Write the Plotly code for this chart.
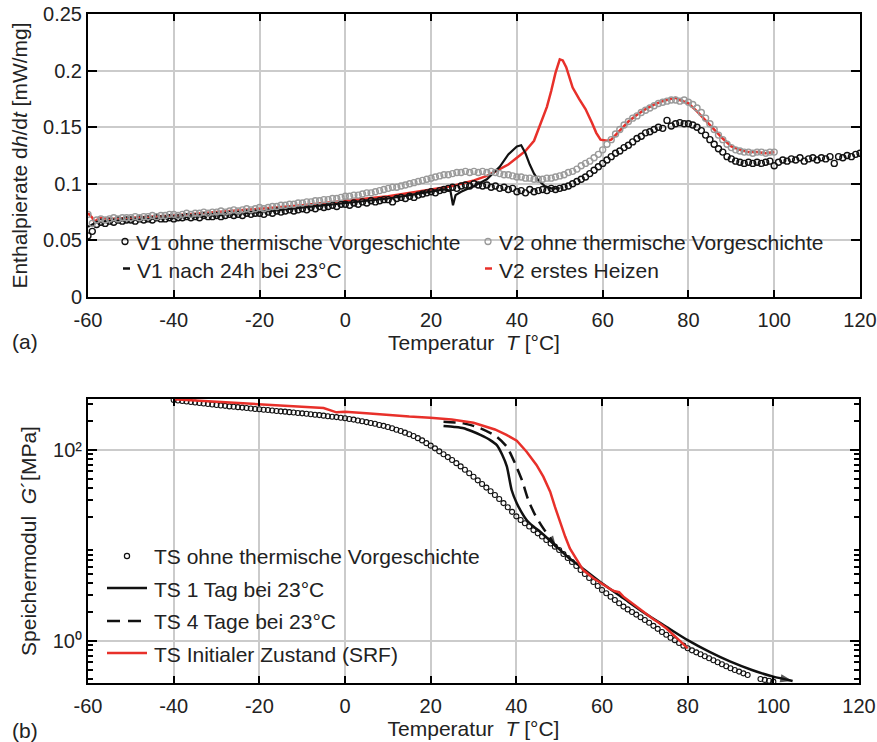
import math
import plotly.graph_objects as go

W, H = 877, 742
FONT = "Liberation Sans, Arial, sans-serif"

# ---------------- (a) DSC: Enthalpierate ----------------
T_v1_ohne = list(range(-60, 121))
dhdt_v1_ohne = [
    0.054, 0.058, 0.064, 0.066, 0.065, 0.067, 0.066, 0.068, 0.067, 0.068,
    0.068, 0.067, 0.069, 0.068, 0.069, 0.068, 0.070, 0.069, 0.069, 0.070,
    0.069, 0.070, 0.070, 0.071, 0.070, 0.071, 0.070, 0.072, 0.071, 0.071,
    0.072, 0.071, 0.072, 0.073, 0.072, 0.073, 0.072, 0.074, 0.073, 0.074,
    0.074, 0.073, 0.075, 0.074, 0.076, 0.075, 0.076, 0.077, 0.076, 0.077,
    0.078, 0.077, 0.079, 0.078, 0.080, 0.079, 0.080, 0.081, 0.080, 0.082,
    0.082, 0.081, 0.083, 0.082, 0.084, 0.083, 0.085, 0.084, 0.085, 0.086,
    0.086, 0.084, 0.087, 0.088, 0.087, 0.089, 0.088, 0.090, 0.091, 0.092,
    0.093, 0.092, 0.094, 0.095, 0.096, 0.097, 0.096, 0.098, 0.099, 0.098,
    0.100, 0.099, 0.098, 0.099, 0.097, 0.098, 0.096, 0.097, 0.095, 0.096,
    0.093, 0.094, 0.092, 0.095, 0.093, 0.094, 0.095, 0.094, 0.096, 0.095,
    0.096, 0.097, 0.098, 0.100, 0.102, 0.104, 0.106, 0.109, 0.112, 0.115,
    0.118, 0.121, 0.124, 0.127, 0.129, 0.132, 0.134, 0.137, 0.140, 0.142,
    0.145, 0.146, 0.148, 0.150, 0.149, 0.156, 0.151, 0.153, 0.154, 0.153,
    0.153, 0.152, 0.150, 0.147, 0.143, 0.139, 0.135, 0.131, 0.128, 0.124,
    0.122, 0.120, 0.119, 0.118, 0.119, 0.118, 0.119, 0.118, 0.119, 0.120,
    0.116, 0.119, 0.121, 0.120, 0.122, 0.121, 0.123, 0.120, 0.122, 0.123,
    0.121, 0.123, 0.122, 0.124, 0.118, 0.124, 0.123, 0.125, 0.124, 0.126,
    0.127,
]

T_v2_ohne = list(range(-60, 101))
dhdt_v2_ohne = [
    0.073, 0.065, 0.068, 0.069, 0.068, 0.069, 0.070, 0.069, 0.070, 0.070,
    0.070, 0.071, 0.070, 0.071, 0.071, 0.072, 0.071, 0.072, 0.072, 0.073,
    0.073, 0.072, 0.073, 0.074, 0.073, 0.074, 0.074, 0.075, 0.074, 0.075,
    0.075, 0.076, 0.075, 0.076, 0.077, 0.076, 0.077, 0.078, 0.077, 0.078,
    0.079, 0.078, 0.079, 0.080, 0.080, 0.081, 0.081, 0.082, 0.082, 0.083,
    0.083, 0.084, 0.084, 0.085, 0.085, 0.086, 0.086, 0.087, 0.087, 0.088,
    0.089, 0.089, 0.090, 0.090, 0.091, 0.092, 0.092, 0.093, 0.094, 0.095,
    0.096, 0.097, 0.097, 0.098, 0.099, 0.100, 0.101, 0.102, 0.103, 0.104,
    0.105, 0.106, 0.107, 0.108, 0.108, 0.109, 0.110, 0.110, 0.111, 0.110,
    0.111, 0.110, 0.111, 0.110, 0.111, 0.110, 0.109, 0.108, 0.108, 0.107,
    0.106, 0.106, 0.105, 0.105, 0.104, 0.104, 0.104, 0.105, 0.105, 0.106,
    0.107, 0.108, 0.110, 0.111, 0.113, 0.116, 0.118, 0.120, 0.123, 0.126,
    0.130, 0.135, 0.139, 0.144, 0.148, 0.152, 0.155, 0.158, 0.160, 0.163,
    0.165, 0.167, 0.169, 0.171, 0.172, 0.173, 0.174, 0.174, 0.173, 0.174,
    0.172, 0.170, 0.167, 0.163, 0.158, 0.153, 0.148, 0.143, 0.139, 0.135,
    0.132, 0.130, 0.129, 0.128, 0.128, 0.127, 0.128, 0.128, 0.127, 0.128,
    0.128,
]

T_v1_24h = [-60, -58, -55, -50, -40, -30, -20, -10, 0, 10, 15, 20, 23, 24.5,
            25.1, 25.7, 27, 30, 33, 36, 38, 40, 41, 42, 43, 44, 45, 46.5, 48, 50]
dhdt_v1_24h = [0.062, 0.066, 0.067, 0.068, 0.070, 0.072, 0.075, 0.079, 0.083,
               0.087, 0.090, 0.093, 0.095, 0.094, 0.081, 0.090, 0.093, 0.098,
               0.104, 0.115, 0.126, 0.133, 0.134, 0.127, 0.117, 0.109, 0.103,
               0.098, 0.096, 0.096]

T_v2_heat = [-60, -59, -58.5, -58, -57, -55, -50, -40, -30, -20,
             -10, 0, 10, 20, 25, 30, 33, 35, 38, 40,
             42, 44, 45, 46, 47, 48, 49, 50, 50.7, 51.5,
             53, 54.5, 56, 57.5, 58.5, 59.5, 61, 62, 64, 66,
             68, 70, 72, 74, 76, 77, 78, 80, 82, 84,
             86, 88, 90, 92, 94, 96, 98, 100]
dhdt_v2_heat = [0.074, 0.070, 0.066, 0.068, 0.070, 0.069, 0.070, 0.072, 0.075, 0.078,
                0.081, 0.085, 0.089, 0.095, 0.098, 0.103, 0.107, 0.111, 0.117, 0.123,
                0.129, 0.138, 0.148, 0.158, 0.168, 0.182, 0.198, 0.210, 0.209, 0.203,
                0.185, 0.175, 0.166, 0.154, 0.145, 0.139, 0.138, 0.139, 0.147, 0.155,
                0.161, 0.166, 0.170, 0.173, 0.175, 0.176, 0.174, 0.171, 0.164, 0.156,
                0.148, 0.140, 0.133, 0.130, 0.128, 0.128, 0.127, 0.128]

# ---------------- (b) DMA: Speichermodul ----------------
T_ts_ohne = list(range(-40, 95)) + [97, 98, 99, 100]
G_ts_ohne = [
    334, 330, 326, 322, 318, 314, 310, 307, 303, 299,
    296, 292, 290, 286, 284, 281, 278, 275, 272, 269,
    267, 264, 262, 259, 256, 254, 252, 249, 247, 244,
    242, 240, 237, 234, 232, 229, 226, 223, 221, 218,
    215, 211, 208, 204, 200, 196, 192, 188, 183, 179,
    174, 169, 163, 158, 152, 146, 140, 133, 126, 118,
    111, 104, 96.8, 90.4, 84.3, 78.5, 72.8, 67.3, 62.1, 57.1,
    52.5, 48.1, 44.1, 40.4, 37.0, 33.8, 30.7, 27.8, 25.1, 22.5,
    20.2, 18.5, 17.1, 15.8, 14.5, 13.4, 12.4, 11.4, 10.5, 9.72,
    8.97, 8.15, 7.40, 6.71, 6.10, 5.53, 5.02, 4.56, 4.14, 3.76,
    3.42, 3.16, 2.91, 2.69, 2.48, 2.29, 2.14, 2.01, 1.89, 1.77,
    1.66, 1.55, 1.44, 1.34, 1.24, 1.16, 1.08, 1.02, 0.953, 0.893,
    0.838, 0.798, 0.760, 0.726, 0.692, 0.659, 0.628, 0.598, 0.570, 0.543,
    0.518, 0.497, 0.478, 0.458, 0.441,
    0.400, 0.391, 0.383, 0.375,
]

T_ts_1tag = [23, 25.5, 27.7, 29.5, 31.6, 33.9, 35.4, 36.7, 37.8, 38.9, 40.1,
             41.2, 42.4, 44, 45.5, 48.6, 52, 55, 60, 65, 70, 75, 80, 85, 90,
             95, 100, 104.5]
G_ts_1tag = [178, 174, 169, 158, 144, 127, 113, 89, 66.8, 38.1, 27.7, 22.4,
             18.5, 15.8, 14.0, 10.5, 7.59, 6.0, 4.02, 2.80, 1.95, 1.41, 1.02,
             0.773, 0.607, 0.497, 0.423, 0.381]

T_ts_4tage = [23, 27.7, 31.6, 35.4, 37.8, 39.7, 41.3, 42.8, 44.4, 46.3, 48.0, 49.3]
G_ts_4tage = [198, 190, 169, 138, 108, 72.4, 48.5, 29.9, 20.8, 15.1, 11.8, 9.6]

T_ts_srf = [-40, -30, -20, -10, -5, -2, 0, 5, 10, 15, 19.9, 24.9, 30.0, 35.0,
            37.7, 40.1, 42.4, 44.7, 46.3, 47.9, 49.0, 50.2, 51.4, 52.5, 54.1,
            55.6, 58.0, 60.0, 62, 63, 64, 65, 68, 70, 72, 73, 75, 78, 80]
G_ts_srf = [340, 320, 303, 287, 275, 248, 252, 243, 232, 224, 218, 209, 193,
            164, 144, 125, 96, 69.7, 52.6, 36.6, 25.5, 17.7, 12.4, 9.33, 7.05,
            5.53, 4.53, 3.95, 3.48, 3.31, 3.24, 2.91, 2.29, 1.95, 1.69, 1.58,
            1.36, 1.02, 0.838]

# ---------------- tick labels ----------------
x_tickvals = [-60, -40, -20, 0, 20, 40, 60, 80, 100, 120]
x_ticktext = ["-60", "-40", "-20", "0", "20", "40", "60", "80", "100", "120"]
ya_tickvals = [0, 0.05, 0.1, 0.15, 0.2, 0.25]
ya_ticktext = ["0", "0.05", "0.1", "0.15", "0.2", "0.25"]
yb_tickvals = [1, 100]
yb_ticktext = ["10\u2070", "10\u00b2"]
yb_minor = [0.4, 0.5, 0.6, 0.7, 0.8, 0.9, 2, 3, 4, 5, 6, 7, 8, 9,
            20, 30, 40, 50, 60, 70, 80, 90, 200, 300]

BLACK = "#111111"
GREY = "#9a9a9a"
RED = "#e8302a"
NB = "\u00a0"


def arrow_end(n, size):
    """marker sizes: only the final point carries an arrow head"""
    return [0] * (n - 1) + [size]


fig = go.Figure()

# (a)
fig.add_trace(go.Scatter(x=T_v2_heat, y=dhdt_v2_heat, mode="lines", name="V2 erstes Heizen",
                         line=dict(color=RED, width=2.5), xaxis="x", yaxis="y", showlegend=False))
fig.add_trace(go.Scatter(x=T_v1_24h, y=dhdt_v1_24h, mode="lines", name="V1 nach 24h bei 23°C",
                         line=dict(color=BLACK, width=2.2), xaxis="x", yaxis="y", showlegend=False))
fig.add_trace(go.Scatter(x=T_v1_ohne, y=dhdt_v1_ohne, mode="markers", name="V1 ohne thermische Vorgeschichte",
                         marker=dict(symbol="circle-open", size=6, color=BLACK, line=dict(width=1.4, color=BLACK)),
                         xaxis="x", yaxis="y", showlegend=False))
fig.add_trace(go.Scatter(x=T_v2_ohne, y=dhdt_v2_ohne, mode="markers", name="V2 ohne thermische Vorgeschichte",
                         marker=dict(symbol="circle-open", size=6, color=GREY, line=dict(width=1.4, color=GREY)),
                         xaxis="x", yaxis="y", showlegend=False))

# (b)
fig.add_trace(go.Scatter(x=T_ts_ohne, y=G_ts_ohne, mode="markers", name="TS ohne thermische Vorgeschichte",
                         marker=dict(symbol="circle-open", size=5, color=BLACK, line=dict(width=1.1, color=BLACK)),
                         xaxis="x2", yaxis="y2", showlegend=False))
fig.add_trace(go.Scatter(x=T_ts_1tag, y=G_ts_1tag, mode="lines+markers", name="TS 1 Tag bei 23°C",
                         line=dict(color=BLACK, width=2.5, shape="spline", smoothing=0.6),
                         marker=dict(symbol="arrow", angleref="previous", size=arrow_end(len(T_ts_1tag), 13),
                                     color=BLACK, line=dict(width=0)),
                         xaxis="x2", yaxis="y2", showlegend=False))
fig.add_trace(go.Scatter(x=T_ts_4tage, y=G_ts_4tage, mode="lines+markers", name="TS 4 Tage bei 23°C",
                         line=dict(color=BLACK, width=2.5, dash="12px,7px", shape="spline", smoothing=0.6),
                         marker=dict(symbol="arrow", angleref="previous", size=arrow_end(len(T_ts_4tage), 12),
                                     color=BLACK, line=dict(width=0)),
                         xaxis="x2", yaxis="y2", showlegend=False))
fig.add_trace(go.Scatter(x=T_ts_srf, y=G_ts_srf, mode="lines", name="TS Initialer Zustand (SRF)",
                         line=dict(color=RED, width=2.5), xaxis="x2", yaxis="y2", showlegend=False))


def px(x):
    return x / W


def py(y):
    return 1 - y / H


TITLE_FONT = dict(size=21, family=FONT, color="#222222")
common = dict(showline=True, linecolor="black", linewidth=2, mirror="ticks",
              ticks="inside", tickcolor="black", tickwidth=2, automargin=False,
              showgrid=True, gridcolor="#cbcbcb", gridwidth=2, zeroline=False,
              tickfont=dict(size=20, color="#222222", family=FONT))

x_title = "Temperatur" + NB + NB + "<i>T</i> [°C]"

fig.update_layout(
    width=W, height=H, autosize=False,
    margin=dict(l=0, r=0, t=0, b=0, pad=0),
    paper_bgcolor="white", plot_bgcolor="white",
    font=dict(family=FONT, size=20, color="#222222"),
    showlegend=False,
    xaxis=dict(domain=[px(88), px(860)], anchor="y", range=[-60, 120], tickmode="array",
               tickvals=x_tickvals, ticktext=x_ticktext, ticklen=7, ticklabelstandoff=4,
               title=dict(text=x_title, font=TITLE_FONT, standoff=2), **common),
    yaxis=dict(domain=[py(297), py(14)], anchor="x", range=[0, 0.25], tickmode="array",
               tickvals=ya_tickvals, ticktext=ya_ticktext, ticklen=9,
               title=dict(text=NB + NB + "Enthalpierate d<i>h</i>/d<i>t</i> [mW/mg]",
                          font=TITLE_FONT, standoff=10), **common),
    xaxis2=dict(domain=[px(88), px(859)], anchor="y2", range=[-60, 120], tickmode="array",
                tickvals=x_tickvals, ticktext=x_ticktext, ticklen=7, ticklabelstandoff=4,
                title=dict(text=x_title, font=TITLE_FONT, standoff=2), **common),
    yaxis2=dict(domain=[py(683), py(399)], anchor="x2", type="log",
                range=[math.log10(0.363), math.log10(342)], tickmode="array",
                tickvals=yb_tickvals, ticktext=yb_ticktext, ticklen=9,
                minor=dict(tickmode="array", tickvals=yb_minor, ticks="inside", ticklen=5,
                           tickwidth=1.5, tickcolor="black", showgrid=False),
                title=dict(text=NB + NB + "Speichermodul" + NB + NB + "<i>G</i>´[MPa]",
                           font=TITLE_FONT, standoff=10),
                **common),
)

ann = []
shapes = []


def text(x, y, s, size=21, xanchor="left", angle=0):
    ann.append(dict(x=px(x), y=py(y), xref="paper", yref="paper", text=s, showarrow=False,
                    xanchor=xanchor, yanchor="middle", textangle=angle,
                    font=dict(size=size, family=FONT, color="#222222")))


def circle_key(cx, cy, r, color, lw):
    shapes.append(dict(type="circle", xref="paper", yref="paper", xsizemode="pixel",
                       ysizemode="pixel", xanchor=px(cx), yanchor=py(cy), x0=-r, x1=r,
                       y0=-r, y1=r, line=dict(color=color, width=lw)))


def line_key(x0, x1, y, color, lw, dash="solid"):
    shapes.append(dict(type="line", xref="paper", yref="paper", x0=px(x0), x1=px(x1),
                       y0=py(y), y1=py(y), line=dict(color=color, width=lw, dash=dash)))


# panel labels
text(10, 341, "(a)")
text(10, 730, "(b)")

# legend (a)
circle_key(125, 241.5, 3, BLACK, 1.3)
text(134, 242, "V1 ohne thermische Vorgeschichte")
circle_key(488, 241.5, 3, GREY, 1.3)
text(497, 242, "V2 ohne thermische Vorgeschichte")
line_key(123, 130, 268.5, BLACK, 2.5)
text(135, 270, "V1 nach 24h bei 23°C")
line_key(485, 492, 268.5, RED, 2.5)
text(497, 270, "V2 erstes Heizen")

# legend (b)
circle_key(127, 556, 2.6, BLACK, 1.2)
text(152, 556, "TS ohne thermische Vorgeschichte")
line_key(107, 147, 588, BLACK, 2.5)
text(152, 589, "TS 1 Tag bei 23°C")
line_key(107, 147, 621, BLACK, 2.5, dash="13px,8px")
text(152, 621, "TS 4 Tage bei 23°C")
line_key(107, 147, 653, RED, 2.5)
text(152, 654, "TS Initialer Zustand (SRF)")

fig.update_layout(annotations=ann, shapes=shapes)
fig.write_html("out.html")
